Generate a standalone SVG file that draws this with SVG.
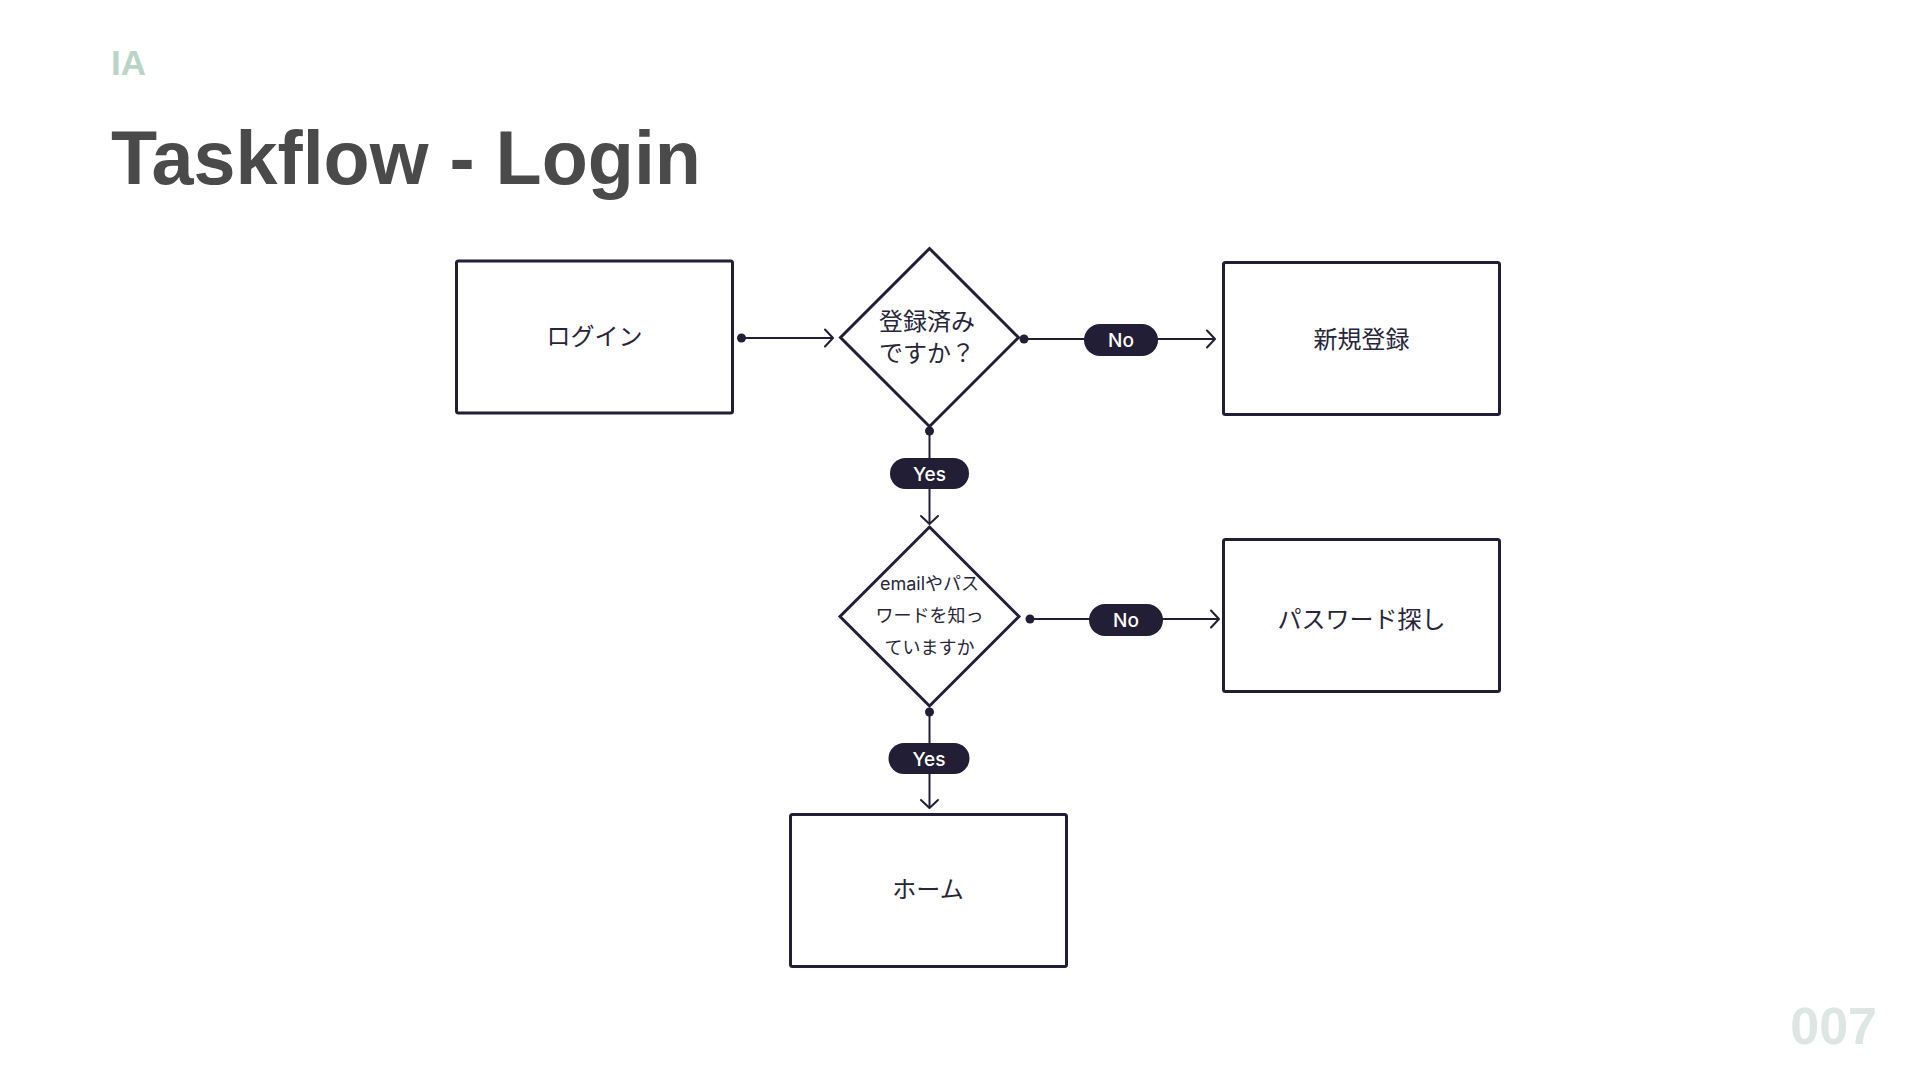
<svg xmlns="http://www.w3.org/2000/svg" width="1920" height="1080" viewBox="0 0 1920 1080">
  <defs>
    <style>
      .box { fill: #ffffff; stroke: #221e35; stroke-width: 3; }
      .dia { fill: #ffffff; stroke: #221e35; stroke-width: 3; stroke-linejoin: miter; }
      .lbl { font-family: "Noto Sans CJK JP", "Noto Sans", sans-serif; font-size: 24px; fill: #28253a; text-anchor: middle; }
      .dlbl { font-family: "Inter", "Noto Sans CJK JP", sans-serif; font-size: 18px; fill: #28253a; text-anchor: middle; }
      .line { fill: none; stroke: #221e35; stroke-width: 2; }
      .dot { fill: #221e35; }
      .pill { fill: #221e35; }
      .ptxt { font-family: "Inter", "Liberation Sans", sans-serif; font-size: 19px; font-weight: 500; fill: #ffffff; text-anchor: middle; }
    </style>
    <marker id="arrow" markerUnits="userSpaceOnUse" markerWidth="20" markerHeight="24" viewBox="-12 -12 14 24" refX="0" refY="0" orient="auto">
      <path d="M-8,-8.5 L0,0 L-8,8.5" fill="none" stroke="#221e35" stroke-width="2" stroke-linecap="round" stroke-linejoin="round"/>
    </marker>
  </defs>
  <rect width="1920" height="1080" fill="#ffffff"/>

  <text x="111" y="75" font-family="Liberation Sans, Arial, sans-serif" font-size="35" font-weight="700" fill="#b8d5c7">IA</text>
  <text x="111" y="184" font-family="Liberation Sans, Arial, sans-serif" font-size="75.5" font-weight="700" fill="#4a4a4a">Taskflow - Login</text>
  <text x="1877" y="1044" font-family="Liberation Sans, Arial, sans-serif" font-size="52" font-weight="700" fill="#dde6e2" text-anchor="end">007</text>

  <g id="connectors">
    <g id="c-login-d1">
      <circle class="dot" cx="741.5" cy="338" r="4.5"/>
      <line class="line" x1="741.5" y1="338" x2="833" y2="338" marker-end="url(#arrow)"/>
    </g>
    <g id="c-d1-register">
      <circle class="dot" cx="1024" cy="339" r="4.5"/>
      <line class="line" x1="1024" y1="339" x2="1215" y2="339" marker-end="url(#arrow)"/>
      <rect class="pill" x="1084" y="324" width="74" height="32" rx="16"/>
      <text class="ptxt" x="1121" y="346.5">No</text>
    </g>
    <g id="c-d1-d2">
      <circle class="dot" cx="929.5" cy="431" r="4.5"/>
      <line class="line" x1="929.5" y1="431" x2="929.5" y2="524" marker-end="url(#arrow)"/>
      <rect class="pill" x="890" y="458" width="79" height="31" rx="15.5"/>
      <text class="ptxt" x="929.5" y="480.5">Yes</text>
    </g>
    <g id="c-d2-password">
      <circle class="dot" cx="1030" cy="619" r="4.5"/>
      <line class="line" x1="1030" y1="619" x2="1219" y2="619" marker-end="url(#arrow)"/>
      <rect class="pill" x="1089" y="604" width="74" height="32" rx="16"/>
      <text class="ptxt" x="1126" y="626.5">No</text>
    </g>
    <g id="c-d2-home">
      <circle class="dot" cx="929.5" cy="712" r="4.5"/>
      <line class="line" x1="929.5" y1="712" x2="929.5" y2="808" marker-end="url(#arrow)"/>
      <rect class="pill" x="888.5" y="743" width="81" height="31" rx="15.5"/>
      <text class="ptxt" x="929" y="765.5">Yes</text>
    </g>
  </g>

  <g id="node-login">
    <rect class="box" x="456.5" y="261" width="276" height="152" rx="2"/>
    <text class="lbl" x="594.5" y="344.5">ログイン</text>
  </g>
  <g id="node-registered">
    <polygon class="dia" points="929.5,248.5 1018.5,337.5 929.5,426.5 840.5,337.5"/>
    <text class="lbl" x="927" y="329.5">登録済み</text>
    <text class="lbl" x="927" y="362">ですか？</text>
  </g>
  <g id="node-signup">
    <rect class="box" x="1223.5" y="262.5" width="276" height="152" rx="2"/>
    <text class="lbl" x="1361.5" y="347.5">新規登録</text>
  </g>
  <g id="node-knows">
    <polygon class="dia" points="929.5,527 1019,616.5 929.5,706 840,616.5"/>
    <text class="dlbl" x="929.5" y="590">emailやパス</text>
    <text class="dlbl" x="929.5" y="621.5">ワードを知っ</text>
    <text class="dlbl" x="929.5" y="654">ていますか</text>
  </g>
  <g id="node-password">
    <rect class="box" x="1223.5" y="539.5" width="276" height="152" rx="2"/>
    <text class="lbl" x="1361.5" y="627.5">パスワード探し</text>
  </g>
  <g id="node-home">
    <rect class="box" x="790.5" y="814.5" width="276" height="152" rx="2"/>
    <text class="lbl" x="928" y="898">ホーム</text>
  </g>
</svg>
